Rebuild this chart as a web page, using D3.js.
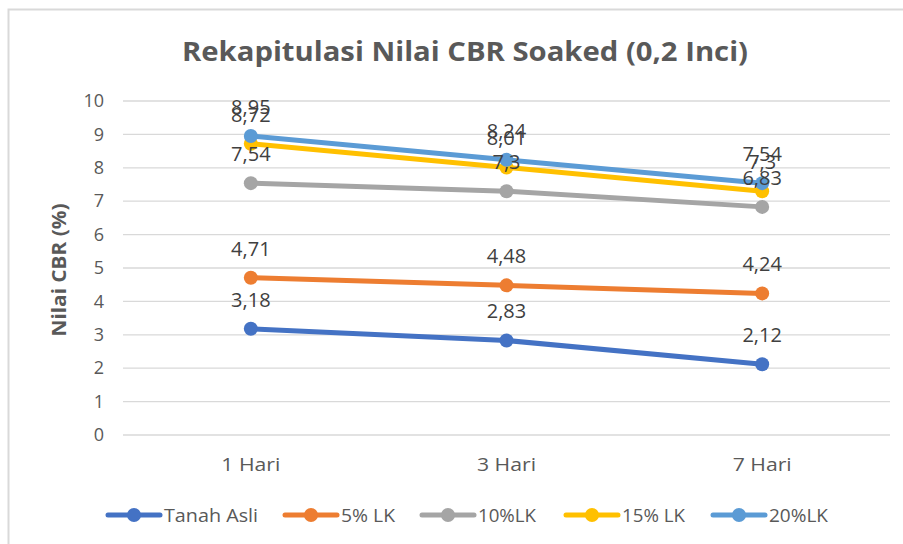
<!DOCTYPE html>
<html>
<head>
<meta charset="utf-8">
<script src="https://cdn.jsdelivr.net/npm/d3@7"></script>
<style>
  body { margin: 0; background: #fff; }
  text { font-family: "Open Sans", "Liberation Sans", sans-serif; }
</style>
</head>
<body>
<div id="chart"></div>
<script>
var svgWidth = 903;
var svgHeight = 544;

// data
var categories = ["1 Hari", "3 Hari", "7 Hari"];
var seriesNames = ["Tanah Asli", "5% LK", "10%LK", "15% LK", "20%LK"];
var tanahAsli = [3.18, 2.83, 2.12];
var lk5 = [4.71, 4.48, 4.24];
var lk10 = [7.54, 7.3, 6.83];
var lk15 = [8.72, 8.01, 7.3];
var lk20 = [8.95, 8.24, 7.54];
var yTicks = [0, 1, 2, 3, 4, 5, 6, 7, 8, 9, 10];
var colors = ["#4472C4", "#ED7D31", "#A5A5A5", "#FFC000", "#5B9BD5"];

var allSeries = [tanahAsli, lk5, lk10, lk15, lk20].map(function (vals, i) {
  return { name: seriesNames[i], color: colors[i], values: vals };
});

var margin = { top: 101, right: 13, bottom: 109, left: 123 };
var width = svgWidth - margin.left - margin.right;
var height = svgHeight - margin.top - margin.bottom;

var svg = d3.select("#chart")
  .append("svg")
  .attr("width", svgWidth)
  .attr("height", svgHeight);

// chart border
svg.append("rect")
  .attr("x", 8.5)
  .attr("y", 9.5)
  .attr("width", svgWidth)
  .attr("height", svgHeight)
  .attr("fill", "#fff")
  .attr("stroke", "#d9d9d9")
  .attr("stroke-width", 2);

svg.append("text")
  .attr("x", 465)
  .attr("y", 61)
  .attr("text-anchor", "middle")
  .attr("font-size", 26)
  .attr("font-weight", "bold")
  .attr("fill", "#595959")
  .attr("textLength", 566)
  .attr("lengthAdjust", "spacingAndGlyphs")
  .text("Rekapitulasi Nilai CBR Soaked (0,2 Inci)");

var chartGroup = svg.append("g")
  .attr("transform", `translate(${margin.left}, ${margin.top})`);

var xScale = d3.scaleBand()
  .domain(categories)
  .range([0, width]);

var yScale = d3.scaleLinear()
  .domain([0, 10])
  .range([height, 0]);

// gridlines
chartGroup.selectAll(".grid")
  .data(yTicks)
  .enter()
  .append("line")
  .attr("x1", 0)
  .attr("x2", width)
  .attr("y1", d => yScale(d))
  .attr("y2", d => yScale(d))
  .attr("stroke", "#d9d9d9")
  .attr("stroke-width", 1.3);

// y axis
var leftAxis = d3.axisLeft(yScale).tickValues(yTicks).tickSize(0).tickPadding(19);
var yAxis = chartGroup.append("g").call(leftAxis);
yAxis.select(".domain").remove();
yAxis.selectAll("text")
  .attr("font-size", 18)
  .attr("fill", "#595959")
  .style("font-family", "'Open Sans', sans-serif");

// x axis
var bottomAxis = d3.axisBottom(xScale).tickSize(0).tickPadding(23);
var xAxis = chartGroup.append("g")
  .attr("transform", `translate(0, ${height})`)
  .call(bottomAxis);
xAxis.select(".domain").remove();
xAxis.selectAll("text")
  .attr("font-size", 19)
  .attr("fill", "#595959")
  .style("font-family", "'Open Sans', sans-serif")
  .attr("textLength", 59)
  .attr("lengthAdjust", "spacingAndGlyphs");

// y axis title
chartGroup.append("text")
  .attr("transform", "rotate(-90)")
  .attr("x", -(yScale(5) + 2))
  .attr("y", -57)
  .attr("text-anchor", "middle")
  .attr("font-size", 20)
  .attr("font-weight", "bold")
  .attr("fill", "#595959")
  .attr("textLength", 133)
  .attr("lengthAdjust", "spacingAndGlyphs")
  .text("Nilai CBR (%)");

var xPos = d => xScale(d) + xScale.bandwidth() / 2;

var line = d3.line()
  .x((d, i) => xPos(categories[i]))
  .y(d => yScale(d));

// lines and markers
allSeries.forEach(function (s) {
  chartGroup.append("path")
    .datum(s.values)
    .attr("d", line)
    .attr("fill", "none")
    .attr("stroke", s.color)
    .attr("stroke-width", 5)
    .attr("stroke-linecap", "round");

  chartGroup.selectAll(null)
    .data(s.values)
    .enter()
    .append("circle")
    .attr("cx", (d, i) => xPos(categories[i]))
    .attr("cy", d => yScale(d))
    .attr("r", 7)
    .attr("fill", s.color);
});

// data labels
allSeries.forEach(function (s) {
  chartGroup.selectAll(null)
    .data(s.values)
    .enter()
    .append("text")
    .attr("x", (d, i) => xPos(categories[i]))
    .attr("y", d => yScale(d) - 22)
    .attr("text-anchor", "middle")
    .attr("font-size", 20)
    .attr("fill", "#404040")
    .text(d => String(d).replace(".", ","));
});

// legend
var legendX = [108, 285, 422, 566, 713];
var legendTextLen = [94, 54, 58, 63, 59];
var legend = svg.append("g");
allSeries.forEach(function (s, i) {
  var g = legend.append("g").attr("transform", `translate(${legendX[i]}, 515)`);
  g.append("line")
    .attr("x1", 0).attr("x2", 52)
    .attr("y1", 0).attr("y2", 0)
    .attr("stroke", s.color)
    .attr("stroke-width", 5)
    .attr("stroke-linecap", "round");
  g.append("circle")
    .attr("cx", 26).attr("cy", 0).attr("r", 7)
    .attr("fill", s.color);
  g.append("text")
    .attr("x", 56)
    .attr("y", 6.5)
    .attr("font-size", 19)
    .attr("fill", "#595959")
    .attr("textLength", legendTextLen[i])
    .attr("lengthAdjust", "spacingAndGlyphs")
    .text(s.name);
});
</script>
</body>
</html>
